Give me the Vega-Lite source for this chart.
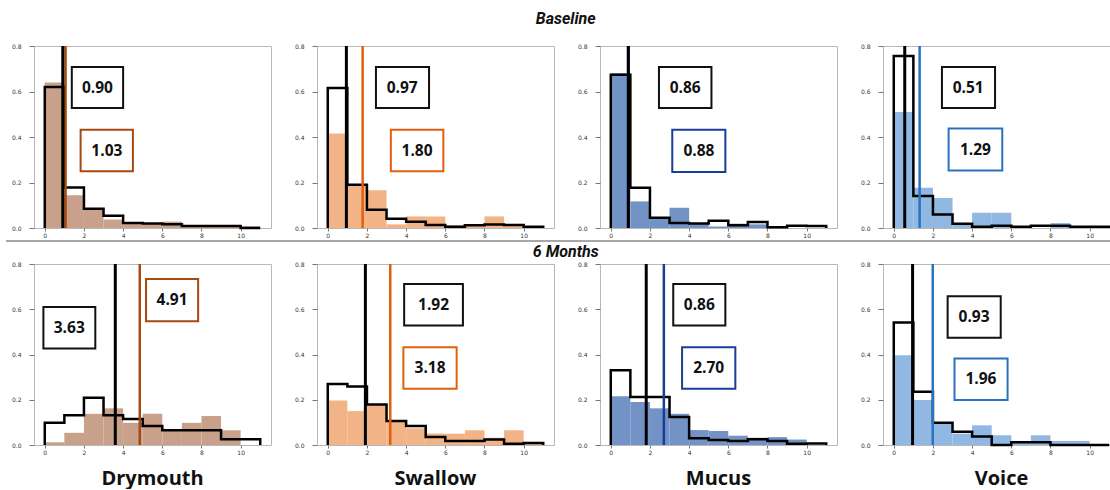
{
"$schema": "https://vega.github.io/schema/vega-lite/v6.json",
"padding": {"left": 5, "top": 10, "right": 0, "bottom": 0},
"background": "white",
"config": {
  "view": {"stroke": "#b8b8b8", "strokeWidth": 1},
  "font": "Open Sans",
  "axis": {"domain": false, "grid": false, "title": null, "tickColor": "#777", "tickSize": 5, "labelFontSize": 6, "labelColor": "#333", "labelFont": "DejaVu Sans", "labelOverlap": false, "labelSeparation": 0},
  "axisY": {"labelPadding": 8, "tickCount": 8, "labelOverlap": false, "format": ".1f"},
  "axisX": {"labelPadding": 1, "tickSize": 3, "tickCount": 6}
},
"data": {"values": [
{"k":"bar","t":"B","s":"Drymouth","b":0,"e":1,"h":0.64},{"k":"bar","t":"B","s":"Drymouth","b":1,"e":2,"h":0.144},{"k":"bar","t":"B","s":"Drymouth","b":2,"e":3,"h":0.082},{"k":"bar","t":"B","s":"Drymouth","b":3,"e":4,"h":0.037},{"k":"bar","t":"B","s":"Drymouth","b":4,"e":5,"h":0.02},{"k":"bar","t":"B","s":"Drymouth","b":5,"e":6,"h":0.02},{"k":"bar","t":"B","s":"Drymouth","b":6,"e":7,"h":0.028},{"k":"bar","t":"B","s":"Drymouth","b":7,"e":8,"h":0.01},{"k":"bar","t":"B","s":"Drymouth","b":8,"e":9,"h":0.01},{"k":"bar","t":"B","s":"Drymouth","b":9,"e":10,"h":0.01},{"k":"bar","t":"B","s":"Drymouth","b":10,"e":11,"h":0.008},
{"k":"bar","t":"B","s":"Swallow","b":0,"e":1,"h":0.415},{"k":"bar","t":"B","s":"Swallow","b":1,"e":2,"h":0.19},{"k":"bar","t":"B","s":"Swallow","b":2,"e":3,"h":0.166},{"k":"bar","t":"B","s":"Swallow","b":3,"e":4,"h":0.016},{"k":"bar","t":"B","s":"Swallow","b":4,"e":5,"h":0.051},{"k":"bar","t":"B","s":"Swallow","b":5,"e":6,"h":0.051},{"k":"bar","t":"B","s":"Swallow","b":6,"e":7,"h":0.012},{"k":"bar","t":"B","s":"Swallow","b":7,"e":8,"h":0.015},{"k":"bar","t":"B","s":"Swallow","b":8,"e":9,"h":0.051},{"k":"bar","t":"B","s":"Swallow","b":9,"e":10,"h":0.012},{"k":"bar","t":"B","s":"Swallow","b":10,"e":11,"h":0.004},
{"k":"bar","t":"B","s":"Mucus","b":0,"e":1,"h":0.68},{"k":"bar","t":"B","s":"Mucus","b":1,"e":2,"h":0.117},{"k":"bar","t":"B","s":"Mucus","b":2,"e":3,"h":0.048},{"k":"bar","t":"B","s":"Mucus","b":3,"e":4,"h":0.089},{"k":"bar","t":"B","s":"Mucus","b":4,"e":5,"h":0.019},{"k":"bar","t":"B","s":"Mucus","b":5,"e":6,"h":0.007},{"k":"bar","t":"B","s":"Mucus","b":6,"e":7,"h":0.019},{"k":"bar","t":"B","s":"Mucus","b":7,"e":8,"h":0.016},
{"k":"bar","t":"B","s":"Voice","b":0,"e":1,"h":0.51},{"k":"bar","t":"B","s":"Voice","b":1,"e":2,"h":0.177},{"k":"bar","t":"B","s":"Voice","b":2,"e":3,"h":0.132},{"k":"bar","t":"B","s":"Voice","b":3,"e":4,"h":0.019},{"k":"bar","t":"B","s":"Voice","b":4,"e":5,"h":0.067},{"k":"bar","t":"B","s":"Voice","b":5,"e":6,"h":0.067},{"k":"bar","t":"B","s":"Voice","b":8,"e":9,"h":0.022},
{"k":"bar","t":"M","s":"Drymouth","b":0,"e":1,"h":0.012},{"k":"bar","t":"M","s":"Drymouth","b":1,"e":2,"h":0.054},{"k":"bar","t":"M","s":"Drymouth","b":2,"e":3,"h":0.138},{"k":"bar","t":"M","s":"Drymouth","b":3,"e":4,"h":0.162},{"k":"bar","t":"M","s":"Drymouth","b":4,"e":5,"h":0.098},{"k":"bar","t":"M","s":"Drymouth","b":5,"e":6,"h":0.138},{"k":"bar","t":"M","s":"Drymouth","b":6,"e":7,"h":0.062},{"k":"bar","t":"M","s":"Drymouth","b":7,"e":8,"h":0.098},{"k":"bar","t":"M","s":"Drymouth","b":8,"e":9,"h":0.128},{"k":"bar","t":"M","s":"Drymouth","b":9,"e":10,"h":0.065},
{"k":"bar","t":"M","s":"Swallow","b":0,"e":1,"h":0.197},{"k":"bar","t":"M","s":"Swallow","b":1,"e":2,"h":0.15},{"k":"bar","t":"M","s":"Swallow","b":2,"e":3,"h":0.179},{"k":"bar","t":"M","s":"Swallow","b":3,"e":4,"h":0.106},{"k":"bar","t":"M","s":"Swallow","b":4,"e":5,"h":0.074},{"k":"bar","t":"M","s":"Swallow","b":5,"e":6,"h":0.051},{"k":"bar","t":"M","s":"Swallow","b":6,"e":7,"h":0.05},{"k":"bar","t":"M","s":"Swallow","b":7,"e":8,"h":0.065},{"k":"bar","t":"M","s":"Swallow","b":8,"e":9,"h":0.032},{"k":"bar","t":"M","s":"Swallow","b":9,"e":10,"h":0.065},{"k":"bar","t":"M","s":"Swallow","b":10,"e":11,"h":0.01},
{"k":"bar","t":"M","s":"Mucus","b":0,"e":1,"h":0.216},{"k":"bar","t":"M","s":"Mucus","b":1,"e":2,"h":0.19},{"k":"bar","t":"M","s":"Mucus","b":2,"e":3,"h":0.162},{"k":"bar","t":"M","s":"Mucus","b":3,"e":4,"h":0.138},{"k":"bar","t":"M","s":"Mucus","b":4,"e":5,"h":0.066},{"k":"bar","t":"M","s":"Mucus","b":5,"e":6,"h":0.062},{"k":"bar","t":"M","s":"Mucus","b":6,"e":7,"h":0.041},{"k":"bar","t":"M","s":"Mucus","b":7,"e":8,"h":0.032},{"k":"bar","t":"M","s":"Mucus","b":8,"e":9,"h":0.035},{"k":"bar","t":"M","s":"Mucus","b":9,"e":10,"h":0.024},
{"k":"bar","t":"M","s":"Voice","b":0,"e":1,"h":0.397},{"k":"bar","t":"M","s":"Voice","b":1,"e":2,"h":0.199},{"k":"bar","t":"M","s":"Voice","b":2,"e":3,"h":0.098},{"k":"bar","t":"M","s":"Voice","b":3,"e":4,"h":0.05},{"k":"bar","t":"M","s":"Voice","b":4,"e":5,"h":0.087},{"k":"bar","t":"M","s":"Voice","b":5,"e":6,"h":0.043},{"k":"bar","t":"M","s":"Voice","b":6,"e":7,"h":0.018},{"k":"bar","t":"M","s":"Voice","b":7,"e":8,"h":0.043},{"k":"bar","t":"M","s":"Voice","b":8,"e":9,"h":0.018},{"k":"bar","t":"M","s":"Voice","b":9,"e":10,"h":0.018},

{"k":"step","t":"B","s":"Drymouth","x":0,"h":0,"o":0},{"k":"step","t":"B","s":"Drymouth","x":0,"h":0.62,"o":1},{"k":"step","t":"B","s":"Drymouth","x":1,"h":0.178,"o":2},{"k":"step","t":"B","s":"Drymouth","x":2,"h":0.085,"o":3},{"k":"step","t":"B","s":"Drymouth","x":3,"h":0.054,"o":4},{"k":"step","t":"B","s":"Drymouth","x":4,"h":0.022,"o":5},{"k":"step","t":"B","s":"Drymouth","x":5,"h":0.02,"o":6},{"k":"step","t":"B","s":"Drymouth","x":6,"h":0.016,"o":7},{"k":"step","t":"B","s":"Drymouth","x":7,"h":0.009,"o":8},{"k":"step","t":"B","s":"Drymouth","x":8,"h":0.009,"o":9},{"k":"step","t":"B","s":"Drymouth","x":9,"h":0.009,"o":10},{"k":"step","t":"B","s":"Drymouth","x":10,"h":0,"o":11},{"k":"step","t":"B","s":"Drymouth","x":11,"h":0,"o":12},
{"k":"step","t":"B","s":"Swallow","x":0,"h":0,"o":0},{"k":"step","t":"B","s":"Swallow","x":0,"h":0.615,"o":1},{"k":"step","t":"B","s":"Swallow","x":1,"h":0.19,"o":2},{"k":"step","t":"B","s":"Swallow","x":2,"h":0.08,"o":3},{"k":"step","t":"B","s":"Swallow","x":3,"h":0.041,"o":4},{"k":"step","t":"B","s":"Swallow","x":4,"h":0.027,"o":5},{"k":"step","t":"B","s":"Swallow","x":5,"h":0.013,"o":6},{"k":"step","t":"B","s":"Swallow","x":6,"h":0.005,"o":7},{"k":"step","t":"B","s":"Swallow","x":7,"h":0.012,"o":8},{"k":"step","t":"B","s":"Swallow","x":8,"h":0.015,"o":9},{"k":"step","t":"B","s":"Swallow","x":9,"h":0.013,"o":10},{"k":"step","t":"B","s":"Swallow","x":10,"h":0.006,"o":11},{"k":"step","t":"B","s":"Swallow","x":11,"h":0,"o":12},
{"k":"step","t":"B","s":"Mucus","x":0,"h":0,"o":0},{"k":"step","t":"B","s":"Mucus","x":0,"h":0.674,"o":1},{"k":"step","t":"B","s":"Mucus","x":1,"h":0.177,"o":2},{"k":"step","t":"B","s":"Mucus","x":2,"h":0.045,"o":3},{"k":"step","t":"B","s":"Mucus","x":3,"h":0.022,"o":4},{"k":"step","t":"B","s":"Mucus","x":4,"h":0.02,"o":5},{"k":"step","t":"B","s":"Mucus","x":5,"h":0.032,"o":6},{"k":"step","t":"B","s":"Mucus","x":6,"h":0.012,"o":7},{"k":"step","t":"B","s":"Mucus","x":7,"h":0.026,"o":8},{"k":"step","t":"B","s":"Mucus","x":8,"h":0.003,"o":9},{"k":"step","t":"B","s":"Mucus","x":9,"h":0.01,"o":10},{"k":"step","t":"B","s":"Mucus","x":10,"h":0.009,"o":11},{"k":"step","t":"B","s":"Mucus","x":11,"h":0,"o":12},
{"k":"step","t":"B","s":"Voice","x":0,"h":0,"o":0},{"k":"step","t":"B","s":"Voice","x":0,"h":0.756,"o":1},{"k":"step","t":"B","s":"Voice","x":1,"h":0.141,"o":2},{"k":"step","t":"B","s":"Voice","x":2,"h":0.059,"o":3},{"k":"step","t":"B","s":"Voice","x":3,"h":0.019,"o":4},{"k":"step","t":"B","s":"Voice","x":4,"h":0.006,"o":5},{"k":"step","t":"B","s":"Voice","x":5,"h":0.01,"o":6},{"k":"step","t":"B","s":"Voice","x":6,"h":0.005,"o":7},{"k":"step","t":"B","s":"Voice","x":7,"h":0.01,"o":8},{"k":"step","t":"B","s":"Voice","x":8,"h":0.01,"o":9},{"k":"step","t":"B","s":"Voice","x":9,"h":0.005,"o":10},{"k":"step","t":"B","s":"Voice","x":10,"h":0.005,"o":11},{"k":"step","t":"B","s":"Voice","x":11,"h":0,"o":12},
{"k":"step","t":"M","s":"Drymouth","x":0,"h":0,"o":0},{"k":"step","t":"M","s":"Drymouth","x":0,"h":0.098,"o":1},{"k":"step","t":"M","s":"Drymouth","x":1,"h":0.132,"o":2},{"k":"step","t":"M","s":"Drymouth","x":2,"h":0.209,"o":3},{"k":"step","t":"M","s":"Drymouth","x":3,"h":0.132,"o":4},{"k":"step","t":"M","s":"Drymouth","x":4,"h":0.115,"o":5},{"k":"step","t":"M","s":"Drymouth","x":5,"h":0.084,"o":6},{"k":"step","t":"M","s":"Drymouth","x":6,"h":0.065,"o":7},{"k":"step","t":"M","s":"Drymouth","x":7,"h":0.065,"o":8},{"k":"step","t":"M","s":"Drymouth","x":8,"h":0.065,"o":9},{"k":"step","t":"M","s":"Drymouth","x":9,"h":0.025,"o":10},{"k":"step","t":"M","s":"Drymouth","x":10,"h":0.025,"o":11},{"k":"step","t":"M","s":"Drymouth","x":11,"h":0,"o":12},
{"k":"step","t":"M","s":"Swallow","x":0,"h":0,"o":0},{"k":"step","t":"M","s":"Swallow","x":0,"h":0.27,"o":1},{"k":"step","t":"M","s":"Swallow","x":1,"h":0.259,"o":2},{"k":"step","t":"M","s":"Swallow","x":2,"h":0.179,"o":3},{"k":"step","t":"M","s":"Swallow","x":3,"h":0.106,"o":4},{"k":"step","t":"M","s":"Swallow","x":4,"h":0.084,"o":5},{"k":"step","t":"M","s":"Swallow","x":5,"h":0.035,"o":6},{"k":"step","t":"M","s":"Swallow","x":6,"h":0.018,"o":7},{"k":"step","t":"M","s":"Swallow","x":7,"h":0.018,"o":8},{"k":"step","t":"M","s":"Swallow","x":8,"h":0.024,"o":9},{"k":"step","t":"M","s":"Swallow","x":9,"h":0.006,"o":10},{"k":"step","t":"M","s":"Swallow","x":10,"h":0.009,"o":11},{"k":"step","t":"M","s":"Swallow","x":11,"h":0,"o":12},
{"k":"step","t":"M","s":"Mucus","x":0,"h":0,"o":0},{"k":"step","t":"M","s":"Mucus","x":0,"h":0.33,"o":1},{"k":"step","t":"M","s":"Mucus","x":1,"h":0.212,"o":2},{"k":"step","t":"M","s":"Mucus","x":2,"h":0.212,"o":3},{"k":"step","t":"M","s":"Mucus","x":3,"h":0.124,"o":4},{"k":"step","t":"M","s":"Mucus","x":4,"h":0.03,"o":5},{"k":"step","t":"M","s":"Mucus","x":5,"h":0.022,"o":6},{"k":"step","t":"M","s":"Mucus","x":6,"h":0.018,"o":7},{"k":"step","t":"M","s":"Mucus","x":7,"h":0.025,"o":8},{"k":"step","t":"M","s":"Mucus","x":8,"h":0.018,"o":9},{"k":"step","t":"M","s":"Mucus","x":9,"h":0.006,"o":10},{"k":"step","t":"M","s":"Mucus","x":10,"h":0.007,"o":11},{"k":"step","t":"M","s":"Mucus","x":11,"h":0,"o":12},
{"k":"step","t":"M","s":"Voice","x":0,"h":0,"o":0},{"k":"step","t":"M","s":"Voice","x":0,"h":0.541,"o":1},{"k":"step","t":"M","s":"Voice","x":1,"h":0.235,"o":2},{"k":"step","t":"M","s":"Voice","x":2,"h":0.098,"o":3},{"k":"step","t":"M","s":"Voice","x":3,"h":0.059,"o":4},{"k":"step","t":"M","s":"Voice","x":4,"h":0.038,"o":5},{"k":"step","t":"M","s":"Voice","x":5,"h":0,"o":6},{"k":"step","t":"M","s":"Voice","x":6,"h":0.012,"o":7},{"k":"step","t":"M","s":"Voice","x":7,"h":0.012,"o":8},{"k":"step","t":"M","s":"Voice","x":8,"h":0,"o":9},{"k":"step","t":"M","s":"Voice","x":9,"h":0,"o":10},{"k":"step","t":"M","s":"Voice","x":10,"h":0,"o":11},{"k":"step","t":"M","s":"Voice","x":11,"h":0,"o":12},

{"k":"mean","t":"B","s":"Drymouth","c":"black","x":0.92},{"k":"mean","t":"B","s":"Drymouth","c":"color","x":1.06},
{"k":"mean","t":"B","s":"Swallow","c":"black","x":0.95},{"k":"mean","t":"B","s":"Swallow","c":"color","x":1.78},
{"k":"mean","t":"B","s":"Mucus","c":"black","x":0.9},{"k":"mean","t":"B","s":"Mucus","c":"color","x":0.88},
{"k":"mean","t":"B","s":"Voice","c":"black","x":0.56},{"k":"mean","t":"B","s":"Voice","c":"color","x":1.32},
{"k":"mean","t":"M","s":"Drymouth","c":"black","x":3.6},{"k":"mean","t":"M","s":"Drymouth","c":"color","x":4.85},
{"k":"mean","t":"M","s":"Swallow","c":"black","x":1.92},{"k":"mean","t":"M","s":"Swallow","c":"color","x":3.19},
{"k":"mean","t":"M","s":"Mucus","c":"black","x":1.81},{"k":"mean","t":"M","s":"Mucus","c":"color","x":2.71},
{"k":"mean","t":"M","s":"Voice","c":"black","x":0.96},{"k":"mean","t":"M","s":"Voice","c":"color","x":1.99},

{"k":"box","t":"B","s":"Drymouth","c":"black","txt":"0.90","x1":1.38,"x2":4.0,"y1":0.527,"y2":0.708,"cx":2.69,"cy":0.617},
{"k":"box","t":"B","s":"Drymouth","c":"color","txt":"1.03","x1":1.83,"x2":4.5,"y1":0.249,"y2":0.432,"cx":3.17,"cy":0.34},
{"k":"box","t":"B","s":"Swallow","c":"black","txt":"0.97","x1":2.46,"x2":5.17,"y1":0.527,"y2":0.708,"cx":3.8,"cy":0.617},
{"k":"box","t":"B","s":"Swallow","c":"color","txt":"1.80","x1":3.22,"x2":5.9,"y1":0.249,"y2":0.432,"cx":4.56,"cy":0.34},
{"k":"box","t":"B","s":"Mucus","c":"black","txt":"0.86","x1":2.46,"x2":5.14,"y1":0.527,"y2":0.708,"cx":3.8,"cy":0.617},
{"k":"box","t":"B","s":"Mucus","c":"color","txt":"0.88","x1":3.14,"x2":5.85,"y1":0.246,"y2":0.432,"cx":4.5,"cy":0.34},
{"k":"box","t":"B","s":"Voice","c":"black","txt":"0.51","x1":2.46,"x2":5.17,"y1":0.527,"y2":0.708,"cx":3.8,"cy":0.617},
{"k":"box","t":"B","s":"Voice","c":"color","txt":"1.29","x1":2.8,"x2":5.54,"y1":0.253,"y2":0.437,"cx":4.17,"cy":0.345},
{"k":"box","t":"M","s":"Drymouth","c":"black","txt":"3.63","x1":-0.07,"x2":2.58,"y1":0.426,"y2":0.61,"cx":1.25,"cy":0.518},
{"k":"box","t":"M","s":"Drymouth","c":"color","txt":"4.91","x1":5.17,"x2":7.83,"y1":0.547,"y2":0.734,"cx":6.5,"cy":0.64},
{"k":"box","t":"M","s":"Swallow","c":"black","txt":"1.92","x1":3.9,"x2":6.9,"y1":0.528,"y2":0.712,"cx":5.4,"cy":0.62},
{"k":"box","t":"M","s":"Swallow","c":"color","txt":"3.18","x1":3.86,"x2":6.58,"y1":0.249,"y2":0.432,"cx":5.22,"cy":0.34},
{"k":"box","t":"M","s":"Mucus","c":"black","txt":"0.86","x1":3.19,"x2":5.85,"y1":0.528,"y2":0.712,"cx":4.52,"cy":0.62},
{"k":"box","t":"M","s":"Mucus","c":"color","txt":"2.70","x1":3.64,"x2":6.36,"y1":0.249,"y2":0.432,"cx":5.0,"cy":0.34},
{"k":"box","t":"M","s":"Voice","c":"black","txt":"0.93","x1":2.75,"x2":5.46,"y1":0.474,"y2":0.657,"cx":4.1,"cy":0.565},
{"k":"box","t":"M","s":"Voice","c":"color","txt":"1.96","x1":3.1,"x2":5.81,"y1":0.199,"y2":0.382,"cx":4.45,"cy":0.29}
]},
"spacing": 0,
"vconcat": [
{
  "transform": [{"filter": "datum.t === 'B'"}],
  "title": {"text": "Baseline", "fontSize": 16, "fontWeight": "bold", "fontStyle": "italic", "font": "Roboto", "anchor": "middle", "offset": 16, "color": "#111"},
  "bounds": "flush",
  "spacing": 46,
  "facet": {"column": {"field": "s", "type": "nominal", "sort": ["Drymouth", "Swallow", "Mucus", "Voice"], "title": null, "header": {"labels": false, "title": null}}},
  "resolve": {"axis": {"x": "independent", "y": "independent"}},
  "spec": {
    "width": 237, "height": 182,
    "layer": [
      {"transform": [{"filter": "datum.k === 'bar'"}], "mark": {"type": "rect"},
       "encoding": {
         "x": {"field": "b", "type": "quantitative", "scale": {"domain": [-0.55, 11.55], "nice": false, "zero": false}, "axis": {"values": [0,2,4,6,8,10], "format": "d"}},
         "x2": {"field": "e"},
         "y": {"field": "h", "type": "quantitative", "scale": {"domain": [0, 0.8], "nice": false}, "axis": {"values": [0,0.1,0.2,0.3,0.4,0.5,0.6,0.7,0.8], "tickCount": 8, "labelOverlap": false}},
         "y2": {"datum": 0},
         "fill": {"field": "s", "type": "nominal", "scale": {"domain": ["Drymouth","Swallow","Mucus","Voice"], "range": ["#c9a08a","#f2b486","#7393c6","#91b8e2"]}, "legend": null}
       }},
      {"transform": [{"filter": "datum.k === 'step'"}], "mark": {"type": "line", "interpolate": "step-after", "color": "#000", "strokeWidth": 2.5},
       "encoding": {
         "x": {"field": "x", "type": "quantitative"},
         "y": {"field": "h", "type": "quantitative"},
         "order": {"field": "o", "type": "quantitative"}
       }},
      {"transform": [{"filter": "datum.k === 'mean' && datum.c === 'color'"}], "mark": {"type": "rule", "strokeWidth": 2.5},
       "encoding": {
         "x": {"field": "x", "type": "quantitative"},
         "stroke": {"field": "s", "type": "nominal", "scale": {"domain": ["Drymouth","Swallow","Mucus","Voice"], "range": ["#a64a12","#e0600f","#1c3d96","#2a72c0"]}, "legend": null}
       }},
      {"transform": [{"filter": "datum.k === 'mean' && datum.c === 'black'"}], "mark": {"type": "rule", "strokeWidth": 3, "color": "#000"},
       "encoding": {
         "x": {"field": "x", "type": "quantitative"}
       }},
      {"transform": [{"filter": "datum.k === 'box'"}], "mark": {"type": "rect", "fill": "white", "strokeWidth": 2},
       "encoding": {
         "x": {"field": "x1", "type": "quantitative"},
         "x2": {"field": "x2"},
         "y": {"field": "y1", "type": "quantitative"},
         "y2": {"field": "y2"},
         "stroke": {"condition": {"test": "datum.c === 'black'", "value": "#111"}, "field": "s", "type": "nominal", "legend": null}
       }},
      {"transform": [{"filter": "datum.k === 'box'"}], "mark": {"type": "text", "fontSize": 15.5, "fontWeight": "bold", "font": "Open Sans", "color": "#111"},
       "encoding": {
         "x": {"field": "cx", "type": "quantitative"},
         "y": {"field": "cy", "type": "quantitative"},
         "text": {"field": "txt", "type": "nominal"}
       }}
    ]
  }
},
{
  "data": {"values": [{"sep": 1}]},
  "width": 1110, "height": 4,
  "view": {"stroke": null},
  "mark": {"type": "rule", "color": "#8a8a8a", "strokeWidth": 1.5},
  "encoding": {
    "x": {"datum": -0.0252, "type": "quantitative", "scale": {"domain": [0, 1], "nice": false, "zero": false}, "axis": null},
    "x2": {"datum": 1},
    "y": {"datum": 0.5, "type": "quantitative", "scale": {"domain": [0, 1], "nice": false}, "axis": null}
  }
},
{
  "transform": [{"filter": "datum.t === 'M'"}],
  "title": {"text": "6 Months", "fontSize": 16, "fontWeight": "bold", "fontStyle": "italic", "font": "Roboto", "anchor": "middle", "offset": 1, "color": "#111"},
  "bounds": "flush",
  "spacing": 46,
  "facet": {"column": {"field": "s", "type": "nominal", "sort": ["Drymouth", "Swallow", "Mucus", "Voice"], "title": null, "header": {"labelOrient": "bottom", "labelFontSize": 20, "labelFontWeight": "bold", "labelFont": "Open Sans", "labelColor": "#111", "labelPadding": 24, "title": null}}},
  "resolve": {"axis": {"x": "independent", "y": "independent"}},
  "spec": {
    "width": 237, "height": 181,
    "layer": [
      {"transform": [{"filter": "datum.k === 'bar'"}], "mark": {"type": "rect"},
       "encoding": {
         "x": {"field": "b", "type": "quantitative", "scale": {"domain": [-0.55, 11.55], "nice": false, "zero": false}, "axis": {"values": [0,2,4,6,8,10], "format": "d"}},
         "x2": {"field": "e"},
         "y": {"field": "h", "type": "quantitative", "scale": {"domain": [0, 0.8], "nice": false}, "axis": {"values": [0,0.1,0.2,0.3,0.4,0.5,0.6,0.7,0.8], "tickCount": 8, "labelOverlap": false}},
         "y2": {"datum": 0},
         "fill": {"field": "s", "type": "nominal", "scale": {"domain": ["Drymouth","Swallow","Mucus","Voice"], "range": ["#c9a08a","#f2b486","#7393c6","#91b8e2"]}, "legend": null}
       }},
      {"transform": [{"filter": "datum.k === 'step'"}], "mark": {"type": "line", "interpolate": "step-after", "color": "#000", "strokeWidth": 2.5},
       "encoding": {
         "x": {"field": "x", "type": "quantitative"},
         "y": {"field": "h", "type": "quantitative"},
         "order": {"field": "o", "type": "quantitative"}
       }},
      {"transform": [{"filter": "datum.k === 'mean' && datum.c === 'color'"}], "mark": {"type": "rule", "strokeWidth": 2.5},
       "encoding": {
         "x": {"field": "x", "type": "quantitative"},
         "stroke": {"field": "s", "type": "nominal", "scale": {"domain": ["Drymouth","Swallow","Mucus","Voice"], "range": ["#a64a12","#e0600f","#1c3d96","#2a72c0"]}, "legend": null}
       }},
      {"transform": [{"filter": "datum.k === 'mean' && datum.c === 'black'"}], "mark": {"type": "rule", "strokeWidth": 3, "color": "#000"},
       "encoding": {
         "x": {"field": "x", "type": "quantitative"}
       }},
      {"transform": [{"filter": "datum.k === 'box'"}], "mark": {"type": "rect", "fill": "white", "strokeWidth": 2},
       "encoding": {
         "x": {"field": "x1", "type": "quantitative"},
         "x2": {"field": "x2"},
         "y": {"field": "y1", "type": "quantitative"},
         "y2": {"field": "y2"},
         "stroke": {"condition": {"test": "datum.c === 'black'", "value": "#111"}, "field": "s", "type": "nominal", "legend": null}
       }},
      {"transform": [{"filter": "datum.k === 'box'"}], "mark": {"type": "text", "fontSize": 15.5, "fontWeight": "bold", "font": "Open Sans", "color": "#111"},
       "encoding": {
         "x": {"field": "cx", "type": "quantitative"},
         "y": {"field": "cy", "type": "quantitative"},
         "text": {"field": "txt", "type": "nominal"}
       }}
    ]
  }
}
]
}
